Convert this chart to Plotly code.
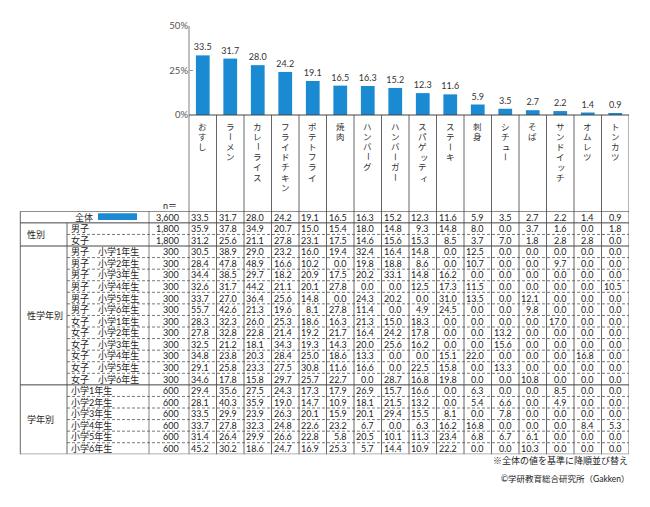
import plotly.graph_objects as go

W, H = 650, 507
FONT = "Lato, Noto Sans CJK JP"
BLUE = "#1a8ad2"
LINE = "#666666"

categories = ["おすし", "ラーメン", "カレーライス", "フライドチキン", "ポテトフライ", "焼肉",
              "ハンバーグ", "ハンバーガー", "スパゲッティ", "ステーキ", "刺身", "シチュー",
              "そば", "サンドイッチ", "オムレツ", "トンカツ"]

row_labels = ["全体", "男子", "女子",
              "男子　小学1年生", "男子　小学2年生", "男子　小学3年生", "男子　小学4年生",
              "男子　小学5年生", "男子　小学6年生",
              "女子　小学1年生", "女子　小学2年生", "女子　小学3年生", "女子　小学4年生",
              "女子　小学5年生", "女子　小学6年生",
              "小学1年生", "小学2年生", "小学3年生", "小学4年生", "小学5年生", "小学6年生"]
n_values = ["3,600", "1,800", "1,800"] + ["300"] * 12 + ["600"] * 6
group_labels = ["性別", "性学年別", "学年別"]
group_spans = [(1, 2), (3, 14), (15, 20)]

overall = [33.5, 31.7, 28.0, 24.2, 19.1, 16.5, 16.3, 15.2, 12.3, 11.6, 5.9, 3.5, 2.7, 2.2, 1.4, 0.9]
boys = [35.9, 37.8, 34.9, 20.7, 15.0, 15.4, 18.0, 14.8, 9.3, 14.8, 8.0, 0.0, 3.7, 1.6, 0.0, 1.8]
girls = [31.2, 25.6, 21.1, 27.8, 23.1, 17.5, 14.6, 15.6, 15.3, 8.5, 3.7, 7.0, 1.8, 2.8, 2.8, 0.0]
boys_g1 = [30.5, 38.9, 29.0, 23.2, 16.0, 19.4, 32.4, 16.4, 14.8, 0.0, 12.5, 0.0, 0.0, 0.0, 0.0, 0.0]
boys_g2 = [28.4, 47.8, 48.9, 16.6, 10.2, 0.0, 19.8, 18.8, 8.6, 0.0, 10.7, 0.0, 0.0, 9.7, 0.0, 0.0]
boys_g3 = [34.4, 38.5, 29.7, 18.2, 20.9, 17.5, 20.2, 33.1, 14.8, 16.2, 0.0, 0.0, 0.0, 0.0, 0.0, 0.0]
boys_g4 = [32.6, 31.7, 44.2, 21.1, 20.1, 27.8, 0.0, 0.0, 12.5, 17.3, 11.5, 0.0, 0.0, 0.0, 0.0, 10.5]
boys_g5 = [33.7, 27.0, 36.4, 25.6, 14.8, 0.0, 24.3, 20.2, 0.0, 31.0, 13.5, 0.0, 12.1, 0.0, 0.0, 0.0]
boys_g6 = [55.7, 42.6, 21.3, 19.6, 8.1, 27.8, 11.4, 0.0, 4.9, 24.5, 0.0, 0.0, 9.8, 0.0, 0.0, 0.0]
girls_g1 = [28.3, 32.3, 26.0, 25.3, 18.6, 16.3, 21.3, 15.0, 18.3, 0.0, 0.0, 0.0, 0.0, 17.0, 0.0, 0.0]
girls_g2 = [27.8, 32.8, 22.8, 21.4, 19.2, 21.7, 16.4, 24.2, 17.8, 0.0, 0.0, 13.2, 0.0, 0.0, 0.0, 0.0]
girls_g3 = [32.5, 21.2, 18.1, 34.3, 19.3, 14.3, 20.0, 25.6, 16.2, 0.0, 0.0, 15.6, 0.0, 0.0, 0.0, 0.0]
girls_g4 = [34.8, 23.8, 20.3, 28.4, 25.0, 18.6, 13.3, 0.0, 0.0, 15.1, 22.0, 0.0, 0.0, 0.0, 16.8, 0.0]
girls_g5 = [29.1, 25.8, 23.3, 27.5, 30.8, 11.6, 16.6, 0.0, 22.5, 15.8, 0.0, 13.3, 0.0, 0.0, 0.0, 0.0]
girls_g6 = [34.6, 17.8, 15.8, 29.7, 25.7, 22.7, 0.0, 28.7, 16.8, 19.8, 0.0, 0.0, 10.8, 0.0, 0.0, 0.0]
grade1 = [29.4, 35.6, 27.5, 24.3, 17.3, 17.9, 26.9, 15.7, 16.6, 0.0, 6.3, 0.0, 0.0, 8.5, 0.0, 0.0]
grade2 = [28.1, 40.3, 35.9, 19.0, 14.7, 10.9, 18.1, 21.5, 13.2, 0.0, 5.4, 6.6, 0.0, 4.9, 0.0, 0.0]
grade3 = [33.5, 29.9, 23.9, 26.3, 20.1, 15.9, 20.1, 29.4, 15.5, 8.1, 0.0, 7.8, 0.0, 0.0, 0.0, 0.0]
grade4 = [33.7, 27.8, 32.3, 24.8, 22.6, 23.2, 6.7, 0.0, 6.3, 16.2, 16.8, 0.0, 0.0, 0.0, 8.4, 5.3]
grade5 = [31.4, 26.4, 29.9, 26.6, 22.8, 5.8, 20.5, 10.1, 11.3, 23.4, 6.8, 6.7, 6.1, 0.0, 0.0, 0.0]
grade6 = [45.2, 30.2, 18.6, 24.7, 16.9, 25.3, 5.7, 14.4, 10.9, 22.2, 0.0, 0.0, 10.3, 0.0, 0.0, 0.0]

table_rows = [overall, boys, girls,
              boys_g1, boys_g2, boys_g3, boys_g4, boys_g5, boys_g6,
              girls_g1, girls_g2, girls_g3, girls_g4, girls_g5, girls_g6,
              grade1, grade2, grade3, grade4, grade5, grade6]

y_ticks = [0, 25, 50]
y_ticktext = ["0%", "25%", "50%"]
footnote = "※全体の値を基準に降順並び替え"
credit = "©学研教育総合研究所（Gakken）"


def px(x):
    return x / W


def py(y):
    return 1 - y / H


# layout geometry (pixels)
X_AXIS_L, X_AXIS_R = 189, 629
Y_ZERO, Y_TOP = 115, 26
T_TOP, T_BOT = 211.3, 454.3
X_TL, X_GRP, X_N = 20.3, 67, 149
CHAR_PITCH = 10.2

TXT = "#222222"
fig = go.Figure()
fig.add_bar(x=categories, y=overall, marker=dict(color=BLUE, line=dict(width=0)),
            width=0.5, texttemplate="%{y:.1f}", textposition="outside",
            constraintext="none",
            textfont=dict(size=9, color="#333333", family=FONT),
            cliponaxis=False, hoverinfo="skip")
fig.add_scatter(x=[categories[0]], y=[0], yaxis="y2", mode="markers",
                marker=dict(opacity=0), hoverinfo="skip")

ann = []
shapes = []

# vertical category labels (one character per line, tate-gaki style)
small = set("ッィャュョァェォ")
for i, cat in enumerate(categories):
    for j, ch in enumerate(cat):
        ycen = 121.5 + j * CHAR_PITCH + 5
        a = dict(x=cat, xref="x", y=py(ycen), yref="paper", text=ch, showarrow=False,
                 xanchor="center", yanchor="middle", borderpad=0,
                 font=dict(size=8.5, color="#333333", family=FONT))
        if ch == "ー":
            a["textangle"] = 90
        if ch in small:
            a["xshift"] = 1.5
        ann.append(a)

# table values
for r, row in enumerate(table_rows):
    for c, v in enumerate(row):
        ann.append(dict(x=categories[c], xref="x", y=r, yref="y2", text=f"{v:.1f}",
                        showarrow=False, xanchor="right", yanchor="middle", xshift=7.5,
                        borderpad=0, font=dict(size=9, color=TXT, family=FONT)))
    ann.append(dict(x=px(180), xref="paper", y=r, yref="y2", text=n_values[r],
                    showarrow=False, xanchor="right", yanchor="middle", borderpad=0,
                    font=dict(size=9, color=TXT, family=FONT)))
    if r == 0:
        ann.append(dict(x=px(94), xref="paper", y=r, yref="y2", text=row_labels[r],
                        showarrow=False, xanchor="right", yanchor="middle", borderpad=0,
                        font=dict(size=9, color=TXT, family=FONT)))
    else:
        ann.append(dict(x=px(69.5), xref="paper", y=r, yref="y2", text=row_labels[r],
                        showarrow=False, xanchor="left", yanchor="middle", borderpad=0,
                        font=dict(size=9, color=TXT, family=FONT)))

for g, (a0, a1) in zip(group_labels, group_spans):
    ann.append(dict(x=px(26), xref="paper", y=(a0 + a1) / 2, yref="y2", text=g,
                    showarrow=False, xanchor="left", yanchor="middle", borderpad=0,
                    font=dict(size=9, color=TXT, family=FONT)))

ann.append(dict(x=px(178), xref="paper", y=py(205), yref="paper", text="n＝",
                showarrow=False, xanchor="right", yanchor="middle", borderpad=0,
                font=dict(size=9, color=TXT, family=FONT)))
ann.append(dict(x=px(629), xref="paper", y=py(460), yref="paper", text=footnote,
                showarrow=False, xanchor="right", yanchor="middle", borderpad=0,
                font=dict(size=9, color=TXT, family=FONT)))
ann.append(dict(x=px(631), xref="paper", y=py(479), yref="paper", text=credit,
                showarrow=False, xanchor="right", yanchor="middle", borderpad=0,
                font=dict(size=8.5, color=TXT, family=FONT)))

# legend swatch in 全体 row
shapes.append(dict(type="rect", xref="paper", yref="paper", x0=px(98), x1=px(137),
                   y0=py(220), y1=py(213.3), fillcolor=BLUE, line=dict(width=0)))

# y-axis vertical line
shapes.append(dict(type="line", xref="paper", yref="paper", x0=px(X_AXIS_L), x1=px(X_AXIS_L),
                   y0=py(Y_TOP), y1=py(T_BOT), line=dict(color="#aaaaaa", width=1.5)))
for k in range(1, len(categories) + 1):
    shapes.append(dict(type="line", xref="x", yref="paper", x0=k - 0.5, x1=k - 0.5,
                       y0=py(Y_ZERO), y1=py(T_BOT), line=dict(color=LINE, width=1)))
shapes.append(dict(type="line", xref="paper", yref="paper", x0=px(X_AXIS_L), x1=px(X_AXIS_R),
                   y0=py(Y_ZERO), y1=py(Y_ZERO), line=dict(color="#444444", width=1)))
shapes.append(dict(type="line", xref="paper", yref="paper", x0=px(X_TL), x1=px(X_TL),
                   y0=py(T_TOP), y1=py(T_BOT), line=dict(color=LINE, width=1)))
shapes.append(dict(type="line", xref="paper", yref="y2", x0=px(X_GRP), x1=px(X_GRP),
                   y0=0.5, y1=20.5, line=dict(color=LINE, width=1)))
shapes.append(dict(type="line", xref="paper", yref="paper", x0=px(X_N), x1=px(X_N),
                   y0=py(T_TOP), y1=py(T_BOT), line=dict(color="#999999", width=1.2)))
solid_rows = {-0.5, 0.5, 2.5, 14.5}
for r in range(len(table_rows) - 1):
    yv = r + 0.5
    if yv in solid_rows:
        continue
    shapes.append(dict(type="line", xref="paper", yref="y2", x0=px(X_GRP), x1=px(X_AXIS_R),
                       y0=yv, y1=yv, line=dict(color="#555555", width=0.8, dash="3px,2px")))
for yv in sorted(solid_rows):
    shapes.append(dict(type="line", xref="paper", yref="y2", x0=px(X_TL), x1=px(X_AXIS_R),
                       y0=yv, y1=yv, line=dict(color="#444444", width=1)))
shapes.append(dict(type="line", xref="paper", yref="y2", x0=px(X_TL), x1=px(X_AXIS_R),
                   y0=20.5, y1=20.5, line=dict(color="#999999", width=1.5)))

fig.update_layout(
    width=W, height=H,
    margin=dict(l=0, r=0, t=0, b=0, pad=0, autoexpand=False),
    paper_bgcolor="white", plot_bgcolor="rgba(0,0,0,0)",
    showlegend=False,
    font=dict(family=FONT, size=9, color=TXT),
    xaxis=dict(domain=[px(X_AXIS_L), px(X_AXIS_R)], type="category", range=[-0.5, 15.5],
               showticklabels=False, showgrid=False, zeroline=False, showline=False,
               ticks="", fixedrange=True, automargin=False),
    yaxis=dict(domain=[py(Y_ZERO), py(Y_TOP)], range=[0, 50], tickvals=y_ticks,
               ticktext=y_ticktext, ticks="inside", ticklen=4, tickcolor="#999999",
               tickfont=dict(size=9.5, color="#555555", family=FONT), showgrid=False,
               zeroline=False, showline=False, fixedrange=True, automargin=False),
    yaxis2=dict(domain=[py(T_BOT), py(T_TOP)], range=[20.5, -0.5], visible=False,
                anchor="x", fixedrange=True, automargin=False),
    annotations=ann, shapes=shapes,
)

fig.write_html("out.html", config={"displayModeBar": False},
               post_script="document.body.style.margin='0';document.body.style.overflow='hidden';")
